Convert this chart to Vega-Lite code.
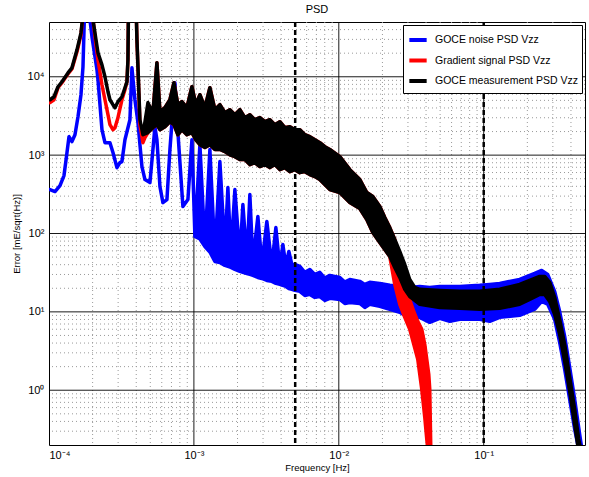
{
"$schema": "https://vega.github.io/schema/vega-lite/v6.json",
"width": 536, "height": 423,
"autosize": "none",
"padding": {"left": 49, "top": 22, "right": 4, "bottom": 32},
"title": {"text": "PSD", "fontSize": 11, "fontWeight": "normal", "font": "Liberation Sans", "offset": 6, "color": "#000"},
"config": {
 "view": {"stroke": "#000", "strokeWidth": 1},
 "font": "Liberation Sans",
 "axis": {"domain": false, "ticks": false, "grid": false, "labelFontSize": 11, "titleFontSize": 9.5, "titleFontWeight": "normal", "labelColor": "#000", "titleColor": "#000", "labelFont": "Liberation Sans", "titleFont": "Liberation Sans"},
 "legend": {"title": null, "orient": "top-right", "offset": 3, "padding": 4, "strokeColor": "#000", "fillColor": "#fff", "symbolType": "stroke", "symbolStrokeWidth": 4, "symbolSize": 300, "labelFontSize": 10.5, "labelColor": "#000", "rowPadding": 1.5, "labelOffset": 6, "labelFont": "Liberation Sans"}
},
"datasets": {
 "xmin": [{"f":0.0002},{"f":0.0003},{"f":0.0004},{"f":0.0005},{"f":0.0006},{"f":0.0007},{"f":0.0008},{"f":0.0009},{"f":0.002},{"f":0.003},{"f":0.004},{"f":0.005},{"f":0.006},{"f":0.007},{"f":0.008},{"f":0.009},{"f":0.02},{"f":0.03},{"f":0.04},{"f":0.05},{"f":0.06},{"f":0.07},{"f":0.08},{"f":0.09},{"f":0.2},{"f":0.3},{"f":0.4}],
 "xmaj": [{"f":0.001},{"f":0.01},{"f":0.1}],
 "ymin": [{"lo":0.3},{"lo":0.4},{"lo":0.5},{"lo":0.6},{"lo":0.7},{"lo":0.8},{"lo":0.9},{"lo":2},{"lo":3},{"lo":4},{"lo":5},{"lo":6},{"lo":7},{"lo":8},{"lo":9},{"lo":20},{"lo":30},{"lo":40},{"lo":50},{"lo":60},{"lo":70},{"lo":80},{"lo":90},{"lo":200},{"lo":300},{"lo":400},{"lo":500},{"lo":600},{"lo":700},{"lo":800},{"lo":900},{"lo":2000},{"lo":3000},{"lo":4000},{"lo":5000},{"lo":6000},{"lo":7000},{"lo":8000},{"lo":9000},{"lo":20000},{"lo":30000},{"lo":40000}],
 "ymaj": [{"lo":1},{"lo":10},{"lo":100},{"lo":1000},{"lo":10000}],
 "vl": [{"f":0.005},{"f":0.1}],
 "curves": [
{"s":"n","f":1.016e-4,"lo":364,"hi":364},
{"s":"n","f":1.100e-4,"lo":343,"hi":343},
{"s":"n","f":1.191e-4,"lo":408,"hi":408},
{"s":"n","f":1.269e-4,"lo":549,"hi":549},
{"s":"n","f":1.331e-4,"lo":1080,"hi":1080},
{"s":"n","f":1.374e-4,"lo":1720,"hi":1720},
{"s":"n","f":1.440e-4,"lo":1490,"hi":1490},
{"s":"n","f":1.511e-4,"lo":1820,"hi":1820},
{"s":"n","f":1.585e-4,"lo":3090,"hi":3090},
{"s":"n","f":1.662e-4,"lo":5900,"hi":5900},
{"s":"n","f":1.716e-4,"lo":13400,"hi":13400},
{"s":"n","f":1.799e-4,"lo":300000,"hi":300000},
{"s":"n","f":1.858e-4,"lo":300000,"hi":300000},
{"s":"n","f":1.918e-4,"lo":53200,"hi":53200},
{"s":"n","f":1.980e-4,"lo":32300,"hi":32300},
{"s":"n","f":2.143e-4,"lo":12300,"hi":12300},
{"s":"n","f":2.178e-4,"lo":9160,"hi":9160},
{"s":"n","f":2.320e-4,"lo":2110,"hi":2110},
{"s":"n","f":2.433e-4,"lo":1440,"hi":1440},
{"s":"n","f":2.634e-4,"lo":1440,"hi":1440},
{"s":"n","f":2.763e-4,"lo":1080,"hi":1080},
{"s":"n","f":2.944e-4,"lo":693,"hi":693},
{"s":"n","f":3.087e-4,"lo":802,"hi":802},
{"s":"n","f":3.187e-4,"lo":827,"hi":827},
{"s":"n","f":3.343e-4,"lo":1570,"hi":1570},
{"s":"n","f":3.619e-4,"lo":2830,"hi":2830},
{"s":"n","f":3.736e-4,"lo":13000,"hi":13000},
{"s":"n","f":3.918e-4,"lo":5090,"hi":5090},
{"s":"n","f":4.110e-4,"lo":2600,"hi":2600},
{"s":"n","f":4.379e-4,"lo":714,"hi":714},
{"s":"n","f":4.593e-4,"lo":488,"hi":488},
{"s":"n","f":4.973e-4,"lo":447,"hi":447},
{"s":"n","f":5.215e-4,"lo":1180,"hi":1180},
{"s":"n","f":5.383e-4,"lo":2310,"hi":2310},
{"s":"n","f":5.557e-4,"lo":1570,"hi":1570},
{"s":"n","f":5.829e-4,"lo":397,"hi":397},
{"s":"n","f":6.112e-4,"lo":248,"hi":248},
{"s":"n","f":6.515e-4,"lo":271,"hi":271},
{"s":"n","f":6.832e-4,"lo":1180,"hi":1180},
{"s":"n","f":7.396e-4,"lo":8390,"hi":8390},
{"s":"n","f":7.758e-4,"lo":1940,"hi":1940},
{"s":"n","f":8.398e-4,"lo":221,"hi":221},
{"s":"n","f":9.091e-4,"lo":271,"hi":271},
{"s":"n","f":9.687e-4,"lo":1570,"hi":1570},
{"s":"n","f":1.016e-3,"lo":91.6,"hi":91.6},
{"s":"n","f":1.100e-3,"lo":85,"hi":1360},
{"s":"n","f":1.191e-3,"lo":68.3,"hi":68.3},
{"s":"n","f":1.289e-3,"lo":58,"hi":1180},
{"s":"n","f":1.396e-3,"lo":44.0,"hi":55},
{"s":"n","f":1.511e-3,"lo":42.7,"hi":827},
{"s":"n","f":1.636e-3,"lo":39.1,"hi":62.5},
{"s":"n","f":1.716e-3,"lo":38.0,"hi":385},
{"s":"n","f":1.799e-3,"lo":36.9,"hi":57.3},
{"s":"n","f":1.918e-3,"lo":34.8,"hi":364},
{"s":"n","f":2.076e-3,"lo":32.8,"hi":50.9},
{"s":"n","f":2.178e-3,"lo":31.9,"hi":234},
{"s":"n","f":2.320e-3,"lo":30.9,"hi":46.7},
{"s":"n","f":2.433e-3,"lo":30.1,"hi":314},
{"s":"n","f":2.553e-3,"lo":29.2,"hi":44.0},
{"s":"n","f":2.763e-3,"lo":27.5,"hi":165},
{"s":"n","f":2.944e-3,"lo":26.7,"hi":41.5},
{"s":"n","f":3.187e-3,"lo":25.2,"hi":142},
{"s":"n","f":3.451e-3,"lo":24.5,"hi":39.1},
{"s":"n","f":3.678e-3,"lo":23.1,"hi":119},
{"s":"n","f":3.918e-3,"lo":22.4,"hi":36.9},
{"s":"n","f":4.110e-3,"lo":21.8,"hi":72.5},
{"s":"n","f":4.310e-3,"lo":21.1,"hi":39.1},
{"s":"n","f":4.521e-3,"lo":19.9,"hi":59.0},
{"s":"n","f":4.742e-3,"lo":19.4,"hi":40.3},
{"s":"n","f":4.973e-3,"lo":18.8,"hi":40.3},
{"s":"n","f":5.383e-3,"lo":18.3,"hi":38.0},
{"s":"n","f":5.829e-3,"lo":16.2,"hi":32},
{"s":"n","f":6.310e-3,"lo":16.7,"hi":34.8},
{"s":"n","f":6.832e-3,"lo":15.3,"hi":30},
{"s":"n","f":7.396e-3,"lo":15.7,"hi":31.9},
{"s":"n","f":8.007e-3,"lo":14.0,"hi":27},
{"s":"n","f":8.670e-3,"lo":14.9,"hi":29.2},
{"s":"n","f":1.016e-2,"lo":14.4,"hi":27.5},
{"s":"n","f":1.100e-2,"lo":12.8,"hi":24},
{"s":"n","f":1.191e-2,"lo":13.2,"hi":25.9},
{"s":"n","f":1.396e-2,"lo":12.8,"hi":24.5},
{"s":"n","f":1.511e-2,"lo":11.4,"hi":22.4},
{"s":"n","f":1.636e-2,"lo":12.5,"hi":23.8},
{"s":"n","f":1.918e-2,"lo":11.8,"hi":23.1},
{"s":"n","f":2.248e-2,"lo":10.8,"hi":21.8},
{"s":"n","f":2.634e-2,"lo":9.86,"hi":21.1},
{"s":"n","f":3.087e-2,"lo":8.26,"hi":20.5},
{"s":"n","f":3.619e-2,"lo":8.51,"hi":21.1},
{"s":"n","f":4.242e-2,"lo":7.35,"hi":20.5},
{"s":"n","f":4.973e-2,"lo":8.26,"hi":21.1},
{"s":"n","f":5.829e-2,"lo":7.57,"hi":21.1},
{"s":"n","f":6.832e-2,"lo":8.02,"hi":21.1},
{"s":"n","f":9.385e-2,"lo":8.02,"hi":21.8},
{"s":"n","f":1.100e-1,"lo":7.57,"hi":22.4},
{"s":"n","f":1.289e-1,"lo":8.51,"hi":23.1},
{"s":"n","f":1.771e-1,"lo":9.02,"hi":25.9},
{"s":"n","f":2.248e-1,"lo":10.8,"hi":30.9},
{"s":"n","f":2.512e-1,"lo":13.6,"hi":33.8},
{"s":"n","f":2.763e-1,"lo":12.5,"hi":30.1},
{"s":"n","f":3.087e-1,"lo":8.02,"hi":18.3},
{"s":"n","f":3.343e-1,"lo":4.08,"hi":10.1},
{"s":"n","f":3.619e-1,"lo":1.85,"hi":4.88},
{"s":"n","f":3.918e-1,"lo":0.768,"hi":1.96},
{"s":"n","f":4.242e-1,"lo":0.318,"hi":0.768},
{"s":"n","f":4.593e-1,"lo":0.153,"hi":0.275},
{"s":"n","f":4.817e-1,"lo":0.0986,"hi":0.153},

{"s":"g","f":1.016e-4,"lo":4670,"hi":4670},
{"s":"g","f":1.083e-4,"lo":5090,"hi":5090},
{"s":"g","f":1.154e-4,"lo":7250,"hi":7250},
{"s":"g","f":1.229e-4,"lo":8390,"hi":8390},
{"s":"g","f":1.352e-4,"lo":10900,"hi":10900},
{"s":"g","f":1.440e-4,"lo":12600,"hi":12600},
{"s":"g","f":1.560e-4,"lo":20800,"hi":20800},
{"s":"g","f":1.662e-4,"lo":34300,"hi":34300},
{"s":"g","f":1.716e-4,"lo":61600,"hi":61600},
{"s":"g","f":1.771e-4,"lo":300000,"hi":300000},
{"s":"g","f":1.949e-4,"lo":300000,"hi":300000},
{"s":"g","f":2.012e-4,"lo":53200,"hi":53200},
{"s":"g","f":2.110e-4,"lo":25600,"hi":25600},
{"s":"g","f":2.178e-4,"lo":16500,"hi":16500},
{"s":"g","f":2.320e-4,"lo":7910,"hi":7910},
{"s":"g","f":2.433e-4,"lo":5090,"hi":5090},
{"s":"g","f":2.553e-4,"lo":3280,"hi":3280},
{"s":"g","f":2.634e-4,"lo":2450,"hi":2450},
{"s":"g","f":2.763e-4,"lo":2110,"hi":2110},
{"s":"g","f":2.852e-4,"lo":2240,"hi":2240},
{"s":"g","f":2.991e-4,"lo":3010,"hi":3010},
{"s":"g","f":3.187e-4,"lo":5090,"hi":5090},
{"s":"g","f":3.343e-4,"lo":6830,"hi":6830},
{"s":"g","f":3.451e-4,"lo":8640,"hi":8640},
{"s":"g","f":3.506e-4,"lo":16500,"hi":16500},
{"s":"g","f":3.562e-4,"lo":300000,"hi":300000},
{"s":"g","f":3.918e-4,"lo":300000,"hi":300000},
{"s":"g","f":4.045e-4,"lo":29600,"hi":29600},
{"s":"g","f":4.242e-4,"lo":2450,"hi":2450},
{"s":"g","f":4.449e-4,"lo":1440,"hi":1440},
{"s":"g","f":4.593e-4,"lo":1670,"hi":1670},
{"s":"g","f":4.817e-4,"lo":1940,"hi":4030},
{"s":"g","f":5.215e-4,"lo":2240,"hi":3480},
{"s":"g","f":5.557e-4,"lo":2450,"hi":15100},
{"s":"g","f":5.829e-4,"lo":2110,"hi":3580},
{"s":"g","f":6.310e-4,"lo":2310,"hi":4030},
{"s":"g","f":6.832e-4,"lo":2670,"hi":5090},
{"s":"g","f":7.280e-4,"lo":2450,"hi":8390},
{"s":"g","f":7.758e-4,"lo":1820,"hi":4400},
{"s":"g","f":8.265e-4,"lo":2110,"hi":4810},
{"s":"g","f":8.948e-4,"lo":1820,"hi":4030},
{"s":"g","f":9.687e-4,"lo":1940,"hi":7460},
{"s":"g","f":1.032e-3,"lo":1570,"hi":4400},
{"s":"g","f":1.100e-3,"lo":1360,"hi":5900},
{"s":"g","f":1.191e-3,"lo":1250,"hi":4030},
{"s":"g","f":1.289e-3,"lo":1360,"hi":7250},
{"s":"g","f":1.396e-3,"lo":1180,"hi":3800},
{"s":"g","f":1.511e-3,"lo":1180,"hi":4400},
{"s":"g","f":1.636e-3,"lo":1110,"hi":3480},
{"s":"g","f":1.771e-3,"lo":1010,"hi":3800},
{"s":"g","f":1.918e-3,"lo":957,"hi":3280},
{"s":"g","f":2.076e-3,"lo":877,"hi":3800},
{"s":"g","f":2.248e-3,"lo":877,"hi":3010},
{"s":"g","f":2.433e-3,"lo":757,"hi":3280},
{"s":"g","f":2.634e-3,"lo":802,"hi":2830},
{"s":"g","f":2.852e-3,"lo":714,"hi":3010},
{"s":"g","f":3.087e-3,"lo":757,"hi":2670},
{"s":"g","f":3.343e-3,"lo":693,"hi":2830},
{"s":"g","f":3.619e-3,"lo":757,"hi":2450},
{"s":"g","f":3.918e-3,"lo":653,"hi":2670},
{"s":"g","f":4.242e-3,"lo":693,"hi":2240},
{"s":"g","f":4.593e-3,"lo":616,"hi":2310},
{"s":"g","f":4.973e-3,"lo":653,"hi":2110},
{"s":"g","f":5.383e-3,"lo":598,"hi":2110},
{"s":"g","f":5.829e-3,"lo":616,"hi":1820},
{"s":"g","f":6.310e-3,"lo":565,"hi":1720},
{"s":"g","f":6.832e-3,"lo":532,"hi":1570},
{"s":"g","f":7.396e-3,"lo":488,"hi":1440},
{"s":"g","f":8.007e-3,"lo":421,"hi":1280},
{"s":"g","f":8.670e-3,"lo":364,"hi":1180},
{"s":"g","f":1.016e-2,"lo":333,"hi":957},
{"s":"g","f":1.191e-2,"lo":248,"hi":653},
{"s":"g","f":1.396e-2,"lo":208,"hi":488},
{"s":"g","f":1.560e-2,"lo":151,"hi":333},
{"s":"g","f":1.716e-2,"lo":103,"hi":296},
{"s":"g","f":1.918e-2,"lo":76.7,"hi":221},
{"s":"g","f":2.076e-2,"lo":62.5,"hi":160},
{"s":"g","f":2.248e-2,"lo":50.9,"hi":119},
{"s":"g","f":2.433e-2,"lo":22.4,"hi":83.9},
{"s":"g","f":2.634e-2,"lo":12.5,"hi":46.7},
{"s":"g","f":2.852e-2,"lo":8.51,"hi":22.4},
{"s":"g","f":3.087e-2,"lo":5.99,"hi":14.4},
{"s":"g","f":3.290e-2,"lo":3.85,"hi":10.1},
{"s":"g","f":3.506e-2,"lo":2.48,"hi":7.57},
{"s":"g","f":3.736e-2,"lo":1.03,"hi":5.99},
{"s":"g","f":3.918e-2,"lo":0.453,"hi":3.85},
{"s":"g","f":4.045e-2,"lo":0.238,"hi":2.48},
{"s":"g","f":4.175e-2,"lo":0.132,"hi":1.60},
{"s":"g","f":4.242e-2,"lo":0.0986,"hi":1.03},
{"s":"g","f":4.310e-2,"lo":0.0986,"hi":0.194},

{"s":"m","f":1.016e-4,"lo":5090,"hi":5090},
{"s":"m","f":1.083e-4,"lo":5560,"hi":5560},
{"s":"m","f":1.154e-4,"lo":7460,"hi":7460},
{"s":"m","f":1.229e-4,"lo":8640,"hi":8640},
{"s":"m","f":1.352e-4,"lo":11200,"hi":11200},
{"s":"m","f":1.440e-4,"lo":13000,"hi":13000},
{"s":"m","f":1.560e-4,"lo":22100,"hi":22100},
{"s":"m","f":1.662e-4,"lo":36400,"hi":36400},
{"s":"m","f":1.716e-4,"lo":61600,"hi":61600},
{"s":"m","f":1.771e-4,"lo":300000,"hi":300000},
{"s":"m","f":1.949e-4,"lo":300000,"hi":300000},
{"s":"m","f":2.012e-4,"lo":53200,"hi":53200},
{"s":"m","f":2.110e-4,"lo":29600,"hi":29600},
{"s":"m","f":2.178e-4,"lo":20200,"hi":20200},
{"s":"m","f":2.320e-4,"lo":14200,"hi":14200},
{"s":"m","f":2.433e-4,"lo":10000,"hi":10000},
{"s":"m","f":2.553e-4,"lo":6440,"hi":6440},
{"s":"m","f":2.634e-4,"lo":5090,"hi":5090},
{"s":"m","f":2.763e-4,"lo":4400,"hi":4400},
{"s":"m","f":2.852e-4,"lo":4030,"hi":4030},
{"s":"m","f":2.991e-4,"lo":4810,"hi":4810},
{"s":"m","f":3.187e-4,"lo":5560,"hi":5560},
{"s":"m","f":3.343e-4,"lo":7250,"hi":7250},
{"s":"m","f":3.451e-4,"lo":8640,"hi":8640},
{"s":"m","f":3.506e-4,"lo":16500,"hi":16500},
{"s":"m","f":3.562e-4,"lo":300000,"hi":300000},
{"s":"m","f":3.918e-4,"lo":300000,"hi":300000},
{"s":"m","f":4.045e-4,"lo":29600,"hi":29600},
{"s":"m","f":4.242e-4,"lo":2830,"hi":2830},
{"s":"m","f":4.449e-4,"lo":1820,"hi":1820},
{"s":"m","f":4.817e-4,"lo":1940,"hi":4670},
{"s":"m","f":5.215e-4,"lo":2240,"hi":3480},
{"s":"m","f":5.557e-4,"lo":2450,"hi":15100},
{"s":"m","f":5.829e-4,"lo":2110,"hi":3580},
{"s":"m","f":6.310e-4,"lo":2310,"hi":4030},
{"s":"m","f":6.832e-4,"lo":2670,"hi":5090},
{"s":"m","f":7.280e-4,"lo":2450,"hi":8390},
{"s":"m","f":7.758e-4,"lo":1820,"hi":4400},
{"s":"m","f":8.265e-4,"lo":2110,"hi":4810},
{"s":"m","f":8.948e-4,"lo":1820,"hi":4030},
{"s":"m","f":9.687e-4,"lo":1940,"hi":7460},
{"s":"m","f":1.032e-3,"lo":1570,"hi":4400},
{"s":"m","f":1.100e-3,"lo":1360,"hi":5900},
{"s":"m","f":1.191e-3,"lo":1250,"hi":4030},
{"s":"m","f":1.289e-3,"lo":1360,"hi":7250},
{"s":"m","f":1.396e-3,"lo":1180,"hi":3800},
{"s":"m","f":1.511e-3,"lo":1180,"hi":4400},
{"s":"m","f":1.636e-3,"lo":1110,"hi":3480},
{"s":"m","f":1.771e-3,"lo":1010,"hi":3800},
{"s":"m","f":1.918e-3,"lo":957,"hi":3280},
{"s":"m","f":2.076e-3,"lo":877,"hi":3800},
{"s":"m","f":2.248e-3,"lo":877,"hi":3010},
{"s":"m","f":2.433e-3,"lo":757,"hi":3280},
{"s":"m","f":2.634e-3,"lo":802,"hi":2830},
{"s":"m","f":2.852e-3,"lo":714,"hi":3010},
{"s":"m","f":3.087e-3,"lo":757,"hi":2670},
{"s":"m","f":3.343e-3,"lo":693,"hi":2830},
{"s":"m","f":3.619e-3,"lo":757,"hi":2450},
{"s":"m","f":3.918e-3,"lo":653,"hi":2670},
{"s":"m","f":4.242e-3,"lo":693,"hi":2240},
{"s":"m","f":4.593e-3,"lo":616,"hi":2310},
{"s":"m","f":4.973e-3,"lo":653,"hi":2110},
{"s":"m","f":5.383e-3,"lo":598,"hi":2110},
{"s":"m","f":5.829e-3,"lo":616,"hi":1820},
{"s":"m","f":6.310e-3,"lo":565,"hi":1720},
{"s":"m","f":6.832e-3,"lo":532,"hi":1570},
{"s":"m","f":7.396e-3,"lo":488,"hi":1440},
{"s":"m","f":8.007e-3,"lo":421,"hi":1280},
{"s":"m","f":8.670e-3,"lo":364,"hi":1180},
{"s":"m","f":1.016e-2,"lo":333,"hi":957},
{"s":"m","f":1.191e-2,"lo":248,"hi":653},
{"s":"m","f":1.396e-2,"lo":208,"hi":488},
{"s":"m","f":1.560e-2,"lo":151,"hi":333},
{"s":"m","f":1.716e-2,"lo":103,"hi":296},
{"s":"m","f":1.918e-2,"lo":76.7,"hi":221},
{"s":"m","f":2.076e-2,"lo":62.5,"hi":160},
{"s":"m","f":2.248e-2,"lo":50.9,"hi":119},
{"s":"m","f":2.433e-2,"lo":36.9,"hi":83.9},
{"s":"m","f":2.634e-2,"lo":27.5,"hi":59.0},
{"s":"m","f":2.852e-2,"lo":19.4,"hi":40.3},
{"s":"m","f":3.087e-2,"lo":15.7,"hi":25.9},
{"s":"m","f":3.343e-2,"lo":14.0,"hi":20.5},
{"s":"m","f":3.619e-2,"lo":12.5,"hi":19.4},
{"s":"m","f":4.973e-2,"lo":11.4,"hi":18.8},
{"s":"m","f":6.832e-2,"lo":11.1,"hi":18.3},
{"s":"m","f":9.385e-2,"lo":10.8,"hi":18.3},
{"s":"m","f":1.289e-1,"lo":11.1,"hi":19.4},
{"s":"m","f":1.771e-1,"lo":12.5,"hi":22.4},
{"s":"m","f":2.076e-1,"lo":14.4,"hi":25.2},
{"s":"m","f":2.433e-1,"lo":16.7,"hi":28.3},
{"s":"m","f":2.634e-1,"lo":16.7,"hi":28.3},
{"s":"m","f":2.852e-1,"lo":13.6,"hi":23.8},
{"s":"m","f":3.087e-1,"lo":9.29,"hi":15.3},
{"s":"m","f":3.343e-1,"lo":5.17,"hi":8.02},
{"s":"m","f":3.619e-1,"lo":2.34,"hi":3.85},
{"s":"m","f":3.918e-1,"lo":0.971,"hi":1.47},
{"s":"m","f":4.242e-1,"lo":0.369,"hi":0.573},
{"s":"m","f":4.521e-1,"lo":0.167,"hi":0.238},
{"s":"m","f":4.742e-1,"lo":0.0986,"hi":0.153}
 ]
},
"layer": [
 {"data": {"name": "xmin"}, "mark": {"type": "rule", "stroke": "#9a9a9a", "strokeDash": [1, 3], "strokeWidth": 1},
  "encoding": {"x": {"field": "f", "type": "quantitative", "scale": {"type": "log", "domain": [0.0001, 0.5], "nice": false},
   "axis": {"values": [0.0001, 0.001, 0.01, 0.1], "labelExpr": "datum.value < 0.0005 ? '10⁻⁴' : datum.value < 0.005 ? '10⁻³' : datum.value < 0.05 ? '10⁻²' : '10⁻¹'", "title": "Frequency [Hz]", "labelPadding": 4, "titlePadding": 2}}}},
 {"data": {"name": "ymin"}, "mark": {"type": "rule", "stroke": "#9a9a9a", "strokeDash": [1, 3], "strokeWidth": 1},
  "encoding": {"y": {"field": "lo", "type": "quantitative", "scale": {"type": "log", "domain": [0.2, 50000], "nice": false},
   "axis": {"values": [1, 10, 100, 1000, 10000], "labelExpr": "datum.value < 5 ? '10⁰' : datum.value < 50 ? '10¹' : datum.value < 500 ? '10²' : datum.value < 5000 ? '10³' : '10⁴'", "title": "Error [mE/sqrt(Hz)]", "labelPadding": 5, "titlePadding": 6}}}},
 {"data": {"name": "xmaj"}, "mark": {"type": "rule", "stroke": "#000", "strokeWidth": 0.9},
  "encoding": {"x": {"field": "f", "type": "quantitative"}}},
 {"data": {"name": "ymaj"}, "mark": {"type": "rule", "stroke": "#000", "strokeWidth": 0.9},
  "encoding": {"y": {"field": "lo", "type": "quantitative"}}},
 {"data": {"name": "curves"}, "transform": [{"filter": "datum.s == 'n'"}],
  "mark": {"type": "area", "strokeWidth": 3.5, "strokeJoin": "round", "clip": true},
  "encoding": {"x": {"field": "f", "type": "quantitative"}, "y": {"field": "lo", "type": "quantitative"}, "y2": {"field": "hi"},
   "fill": {"field": "s", "type": "nominal", "scale": {"domain": ["n", "g", "m"], "range": ["#0000ff", "#ff0000", "#000000"]},
    "legend": {"labelExpr": "datum.label == 'n' ? 'GOCE noise PSD Vzz' : datum.label == 'g' ? 'Gradient signal PSD Vzz' : 'GOCE measurement PSD Vzz'"}},
   "stroke": {"field": "s", "type": "nominal", "scale": {"domain": ["n", "g", "m"], "range": ["#0000ff", "#ff0000", "#000000"]},
    "legend": {"labelExpr": "datum.label == 'n' ? 'GOCE noise PSD Vzz' : datum.label == 'g' ? 'Gradient signal PSD Vzz' : 'GOCE measurement PSD Vzz'"}}}},
 {"data": {"name": "curves"}, "transform": [{"filter": "datum.s == 'g'"}],
  "mark": {"type": "area", "strokeWidth": 3.5, "strokeJoin": "round", "clip": true},
  "encoding": {"x": {"field": "f", "type": "quantitative"}, "y": {"field": "lo", "type": "quantitative"}, "y2": {"field": "hi"},
   "fill": {"field": "s", "type": "nominal"}, "stroke": {"field": "s", "type": "nominal"}}},
 {"data": {"name": "curves"}, "transform": [{"filter": "datum.s == 'm'"}],
  "mark": {"type": "area", "strokeWidth": 3.5, "strokeJoin": "round", "clip": true},
  "encoding": {"x": {"field": "f", "type": "quantitative"}, "y": {"field": "lo", "type": "quantitative"}, "y2": {"field": "hi"},
   "fill": {"field": "s", "type": "nominal"}, "stroke": {"field": "s", "type": "nominal"}}},
 {"data": {"name": "vl"}, "mark": {"type": "rule", "stroke": "#000", "strokeWidth": 2.5, "strokeDash": [5, 3]},
  "encoding": {"x": {"field": "f", "type": "quantitative"}}}
]
}
